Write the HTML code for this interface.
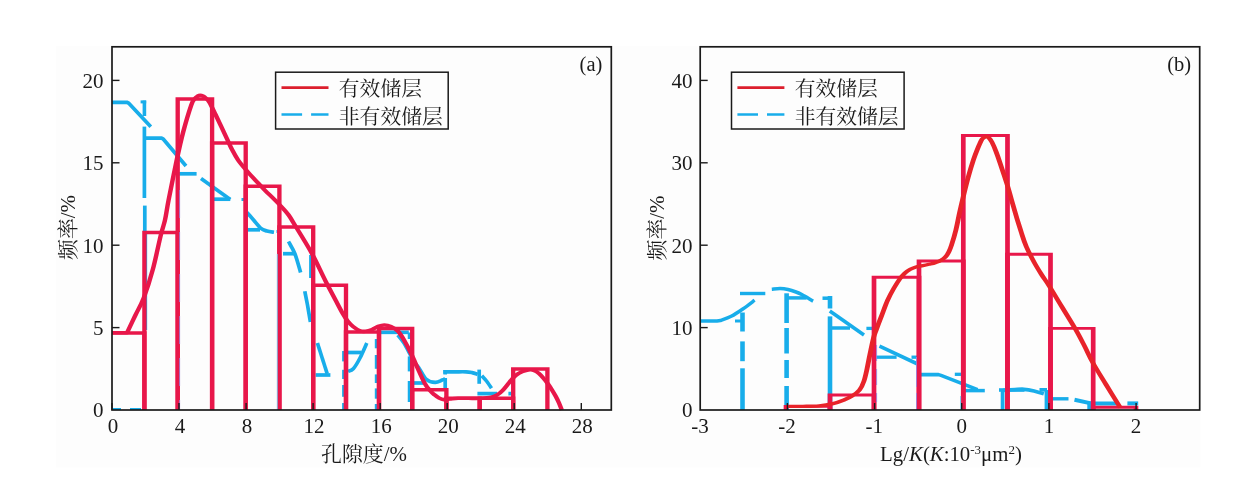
<!DOCTYPE html>
<html lang="zh">
<head>
<meta charset="utf-8">
<title>频率分布</title>
<style>
html,body{margin:0;padding:0;background:#fff;}
body{width:1252px;height:483px;overflow:hidden;}
svg{display:block;}
</style>
</head>
<body>
<svg width="1252" height="483" viewBox="0 0 1252 483" style="will-change:transform">
<rect x="0" y="0" width="1252" height="483" fill="#ffffff"/>
<rect x="56" y="45.8" width="1144.5" height="421.8" fill="#fdfdfd"/>
<g fill="none" stroke="#18adea" stroke-linecap="butt" stroke-linejoin="round">
<path d="M112.0,102.3 L126.8,102.3 L128.8,103.2 L150.8,126.8" stroke-width="3.7"/>
<path d="M140.6,101.9 L146.2,101.9" stroke-width="3"/>
<path d="M144.4,100.6 L144.4,116.0" stroke-width="3.6"/>
<path d="M144.4,126.6 L144.4,198.0" stroke-width="3.7"/>
<path d="M144.8,205.6 L144.8,234.0" stroke-width="3.7"/>
<path d="M145.3,234.0 L145.3,330.0" stroke-width="3.7"/>
<path d="M144.4,138.2 L161.6,138.2 L163.4,139.2 L186.0,166.0" stroke-width="3.7"/>
<path d="M179.0,173.8 L196.6,173.8" stroke-width="3.7"/>
<path d="M201.0,178.6 L230.3,199.5" stroke-width="3.7"/>
<path d="M213.4,199.2 L230.3,199.2" stroke-width="3.7"/>
<path d="M247.0,212.5 C248.2,213.8 251.7,217.8 254.0,220.5 C256.3,223.2 258.8,226.7 261.0,228.4 C263.2,230.2 264.8,230.3 267.0,231.0 C269.2,231.7 272.8,232.1 274.0,232.3" stroke-width="3.7"/>
<path d="M247.0,229.8 L260.0,229.8" stroke-width="3.7"/>
<path d="M276.5,231.5 L278.5,231.5" stroke-width="3"/>
<path d="M241.5,199.5 L244.0,199.5" stroke-width="3"/>
<path d="M283.0,253.7 L295.0,253.7" stroke-width="3.7"/>
<path d="M288.5,241.5 C289.6,243.6 293.0,248.8 295.0,254.0 C297.0,259.2 299.7,269.4 300.6,272.5" stroke-width="3.7"/>
<path d="M304.8,291.2 C305.2,293.5 306.6,299.9 307.5,305.0 C308.4,310.1 309.9,319.2 310.4,322.0" stroke-width="3.7"/>
<path d="M317.4,343.0 L327.2,373.7" stroke-width="3.7"/>
<path d="M310.6,255.0 L310.6,278.0" stroke-width="3"/>
<path d="M315.6,375.0 L330.4,375.0" stroke-width="3.7"/>
<path d="M343.6,351.0 L343.6,361.4" stroke-width="3"/>
<path d="M343.6,369.8 L343.6,379.0" stroke-width="3"/>
<path d="M343.6,385.0 L343.6,396.8" stroke-width="3"/>
<path d="M343.6,403.0 L343.6,410.0" stroke-width="3"/>
<path d="M348.0,352.5 L361.4,352.5" stroke-width="3.7"/>
<path d="M366.8,343.0 C365.7,345.5 362.2,353.7 360.0,358.0 C357.8,362.3 355.3,366.5 353.3,368.7 C351.3,370.9 348.9,370.9 348.0,371.4" stroke-width="3.7"/>
<path d="M376.3,339.0 L376.3,348.3" stroke-width="3"/>
<path d="M376.3,355.0 L376.3,368.8" stroke-width="3"/>
<path d="M376.3,374.4 L376.3,383.0" stroke-width="3"/>
<path d="M376.3,388.4 L376.3,398.7" stroke-width="3"/>
<path d="M376.3,404.0 L376.3,410.0" stroke-width="3"/>
<path d="M378.0,332.3 L408.8,332.3" stroke-width="3.7"/>
<path d="M409.6,332.5 L409.6,339.0" stroke-width="3.7"/>
<path d="M409.6,356.4 L409.6,371.4" stroke-width="3.7"/>
<path d="M409.6,381.0 L409.6,402.0" stroke-width="3.7"/>
<path d="M412.0,383.0 L423.0,383.0" stroke-width="3.7"/>
<path d="M397.8,335.0 C398.8,336.3 402.0,339.8 404.0,343.0 C406.0,346.2 408.2,350.7 410.0,354.0 C411.8,357.3 413.4,360.6 415.0,363.0 C416.6,365.4 417.5,366.0 419.4,368.7 C421.3,371.4 423.8,377.0 426.4,379.3 C429.0,381.6 432.6,382.3 435.2,382.4 C437.8,382.5 440.5,380.7 442.2,380.1 C443.9,379.5 444.7,378.9 445.2,378.6" stroke-width="3.7"/>
<path d="M445.2,370.0 L445.2,374.5" stroke-width="3.7"/>
<path d="M445.2,378.0 L445.2,388.4" stroke-width="3.7"/>
<path d="M443.3,371.8 C445.2,371.8 451.2,371.8 455.0,371.8 C458.8,371.8 463.2,371.7 466.0,371.8 C468.8,371.9 470.1,372.2 472.0,372.6 C473.9,373.0 476.7,374.1 477.6,374.4" stroke-width="3.7"/>
<path d="M479.2,369.6 L479.2,383.8" stroke-width="3.7"/>
<path d="M481.8,375.7 C482.6,376.6 484.9,378.9 486.5,381.0 C488.1,383.1 490.7,387.0 491.5,388.2" stroke-width="3.7"/>
<path d="M477.4,393.6 L497.0,393.6" stroke-width="3.7"/>
<path d="M508.4,393.6 L511.2,393.6" stroke-width="3.7"/>
<path d="M113.0,409.0 L121.0,409.0" stroke-width="2"/>
<path d="M130.0,409.0 L141.0,409.0" stroke-width="2"/>
</g>
<g fill="none" stroke="#e8174a" stroke-width="3.5" stroke-linejoin="miter" transform="scale(1.24,1)">
<path d="M90.32,333.0 L116.45,333.0 L116.45,410.0"/>
<path d="M116.45,410.0 L116.45,232.6 L143.31,232.6 L143.31,410.0"/>
<path d="M143.31,410.0 L143.31,98.9 L171.05,98.9 L171.05,410.0"/>
<path d="M171.05,410.0 L171.05,142.9 L198.15,142.9 L198.15,410.0"/>
<path d="M198.15,410.0 L198.15,186.3 L225.32,186.3 L225.32,410.0"/>
<path d="M225.32,410.0 L225.32,227.0 L252.58,227.0 L252.58,410.0"/>
<path d="M252.58,410.0 L252.58,285.2 L279.03,285.2 L279.03,410.0"/>
<path d="M279.03,410.0 L279.03,332.0 L305.65,332.0 L305.65,410.0"/>
<path d="M305.65,410.0 L305.65,328.5 L332.42,328.5 L332.42,410.0"/>
<path d="M332.42,410.0 L332.42,389.7 L360.00,389.7 L360.00,410.0"/>
<path d="M360.00,410.0 L360.00,398.2 L386.85,398.2 L386.85,410.0"/>
<path d="M386.85,410.0 L386.85,398.2 L413.87,398.2 L413.87,410.0"/>
<path d="M413.87,410.0 L413.87,369.0 L441.45,369.0 L441.45,410.0"/>
</g>
<path d="M179.6,190.0 L179.6,410.0" fill="none" stroke="#9b7fd6" stroke-width="0.9" stroke-dasharray="28 14"/>
<path d="M277.3,254.0 L277.3,410.0" fill="none" stroke="#7cc9ef" stroke-width="0.9"/>
<path d="M90.32,332.8 L102.42,332.8 L102.42,332.8 C103.55,329.8 107.02,320.9 109.27,315.0 C111.53,309.1 113.63,305.3 115.97,297.7 C118.31,290.1 121.05,279.6 123.31,269.2 C125.56,258.8 127.98,243.7 129.60,235.5 C131.21,227.3 132.02,225.9 133.06,220.0 C134.11,214.1 134.44,209.7 135.97,200.0 C137.50,190.3 140.32,172.9 142.26,161.6 C144.19,150.3 145.73,141.4 147.74,132.0 C149.76,122.6 152.74,110.5 154.27,105.0 C155.81,99.5 156.05,100.5 156.85,99.0 C157.66,97.5 158.55,96.8 159.27,96.2 C160.00,95.6 160.73,95.2 161.45,95.2 C162.18,95.2 162.90,95.5 163.71,96.0 C164.52,96.5 165.24,97.2 166.13,98.3 C167.02,99.4 167.66,99.8 168.95,102.5 C170.24,105.2 171.53,108.7 173.79,114.5 C176.05,120.3 180.32,131.6 182.50,137.4 C184.76,143.2 185.48,145.7 187.10,149.5 C188.71,153.3 190.08,156.6 192.18,160.3 C194.27,164.0 197.34,168.3 199.68,171.7 C202.02,175.1 204.11,177.7 206.45,180.8 C208.79,183.9 210.56,186.4 213.71,190.3 C216.85,194.2 222.10,200.4 225.24,204.5 C228.39,208.6 230.48,211.2 232.74,215.0 C235.00,218.8 236.61,222.8 238.71,227.0 C240.81,231.2 242.82,235.1 245.16,240.0 C247.50,244.9 249.92,249.7 252.82,256.5 C255.73,263.3 259.52,273.8 262.50,281.0 C265.48,288.2 268.23,294.5 270.56,300.0 C272.90,305.5 274.92,310.4 276.61,314.0 C278.31,317.6 279.27,319.4 280.65,321.5 C282.02,323.6 283.15,325.0 284.68,326.5 C286.21,328.0 288.23,329.8 289.92,330.6 C291.61,331.4 293.06,331.5 294.76,331.3 C296.45,331.1 298.31,330.4 300.00,329.6 C301.69,328.8 303.15,327.3 304.84,326.5 C306.53,325.7 308.15,325.0 309.92,325.0 C311.69,325.0 313.55,325.5 315.32,326.5 C317.10,327.5 319.03,328.8 320.81,331.0 C322.58,333.2 324.03,336.2 325.81,340.0 C327.58,343.8 329.84,349.2 331.69,354.0 C333.55,358.8 335.32,364.1 337.10,369.0 C338.87,373.9 340.97,379.9 342.58,383.5 C344.19,387.1 345.48,388.6 346.77,390.5 C348.06,392.4 348.95,393.4 350.16,394.6 C351.37,395.9 352.74,397.2 354.03,398.0 C355.32,398.8 356.61,399.4 358.06,399.6 C359.52,399.8 361.05,399.2 362.90,399.0 C364.76,398.8 366.85,398.4 369.35,398.3 C371.85,398.2 374.76,398.3 377.74,398.3 C380.73,398.3 384.03,398.5 387.10,398.3 C390.16,398.1 393.71,397.9 395.97,397.3 C398.23,396.8 399.27,396.1 400.81,395.0 C402.34,393.9 403.79,392.4 405.24,390.6 C406.69,388.8 408.15,386.3 409.68,384.0 C411.21,381.7 413.06,378.8 414.52,377.0 C415.97,375.2 416.94,374.4 418.15,373.5 C419.35,372.6 420.24,371.9 421.77,371.3 C423.31,370.7 425.81,369.8 427.42,369.7 C429.03,369.6 430.24,370.2 431.45,370.8 C432.66,371.4 433.55,372.3 434.68,373.5 C435.81,374.7 437.10,376.4 438.31,378.2 C439.52,379.9 440.81,382.0 441.94,384.0 C443.06,386.0 444.11,387.9 445.16,390.0 C446.21,392.1 447.18,394.1 448.15,396.3 C449.11,398.5 450.00,400.7 450.81,403.0 C451.61,405.3 452.66,408.8 453.06,410.0" fill="none" stroke="#e8174a" stroke-width="3.6" stroke-linejoin="round" transform="scale(1.24,1)"/>
<rect x="112.0" y="46.8" width="499.3" height="363.2" fill="none" stroke="#1a1a1a" stroke-width="1.7"/>
<g fill="none" stroke="#18adea" stroke-linecap="butt" stroke-linejoin="round">
<path d="M700.2,321 L717,321 L720.4,320.6 C722.2,319.9 727.5,318.2 731.2,316.3 C734.9,314.4 738.9,311.7 742.8,309.0 C746.7,306.3 752.6,301.7 754.6,300.2" stroke-width="3.5"/>
<path d="M735.0,321.0 L742.5,321.0" stroke-width="3"/>
<path d="M742.5,312.5 L742.5,331.5" stroke-width="4.6"/>
<path d="M742.5,341.4 L742.5,361.2" stroke-width="4.6"/>
<path d="M742.5,368.3 L742.5,410.0" stroke-width="4.6"/>
<path d="M740.0,293.5 L765.3,293.5" stroke-width="3.4"/>
<path d="M771.8,289.3 C773.2,289.2 777.3,288.6 780.0,288.6 C782.7,288.6 785.3,288.9 788.0,289.5 C790.7,290.1 793.6,291.1 796.0,292.0 C798.4,292.9 799.4,293.3 802.2,294.8 C805.1,296.3 811.3,300.1 813.1,301.1" stroke-width="3.5"/>
<path d="M786.6,293.3 L786.6,323.0" stroke-width="4.6"/>
<path d="M786.6,328.0 L786.6,353.5" stroke-width="4.6"/>
<path d="M786.6,360.0 L786.6,378.0" stroke-width="4.6"/>
<path d="M786.6,386.0 L786.6,410.0" stroke-width="4.6"/>
<path d="M786.0,297.9 L806.6,297.9" stroke-width="3.5"/>
<path d="M822.5,298.2 L832.0,298.2" stroke-width="3.5"/>
<path d="M830.0,296.0 L830.0,308.5" stroke-width="4.6"/>
<path d="M830.0,316.4 L830.0,410.0" stroke-width="4.6"/>
<path d="M829.8,311.0 L864.0,335.0" stroke-width="3.6"/>
<path d="M830.0,328.0 L850.0,328.0" stroke-width="3.5"/>
<path d="M866.4,328.4 L874.0,328.4" stroke-width="3.3"/>
<path d="M879.5,346.2 L917.6,364.0" stroke-width="3.6"/>
<path d="M874.0,357.2 L896.6,357.2" stroke-width="3.3"/>
<path d="M911.5,357.2 L919.0,357.2" stroke-width="3.3"/>
<path d="M919.0,374.6 L938.5,374.6 L941.0,375.4 L977.6,389.6" stroke-width="3.6"/>
<path d="M954.8,374.3 L962.0,374.3" stroke-width="3.3"/>
<path d="M964.0,390.6 L984.8,390.6" stroke-width="3.5"/>
<path d="M999.0,390.0 L1024.5,390.0" stroke-width="3.6"/>
<path d="M1039.5,389.8 L1047.0,389.8" stroke-width="3.6"/>
<path d="M1002.6,390.0 L1002.6,410.0" stroke-width="3.8"/>
<path d="M1003.0,390.4 C1005.0,390.3 1011.5,389.8 1015.0,389.6 C1018.5,389.4 1020.8,389.1 1024.0,389.3 C1027.2,389.5 1030.7,390.2 1034.0,391.0 C1037.3,391.8 1042.2,393.3 1043.8,393.8" stroke-width="3.8"/>
<path d="M1046.6,390.0 L1046.6,410.0" stroke-width="4"/>
<path d="M1052.0,398.8 L1068.5,398.8" stroke-width="3.4"/>
<path d="M1074.5,399.8 L1091.0,403.4" stroke-width="4"/>
<path d="M1089.3,410.0 L1089.3,403.4 L1118.0,403.4" stroke-width="4"/>
<path d="M1127.4,403.4 L1138.2,403.4" stroke-width="4"/>
</g>
<g fill="none" stroke="#e8174a" stroke-width="2.9" stroke-linejoin="miter" transform="scale(1.62,1)">
<path d="M485.19,410.0 L485.19,406.4 L512.35,406.4 L512.35,410.0"/>
<path d="M512.35,410.0 L512.35,395.0 L539.51,395.0 L539.51,410.0"/>
<path d="M539.51,410.0 L539.51,277.2 L567.28,277.2 L567.28,410.0"/>
<path d="M567.28,410.0 L567.28,261.0 L594.63,261.0 L594.63,410.0"/>
<path d="M594.63,410.0 L594.63,135.5 L621.91,135.5 L621.91,410.0"/>
<path d="M621.91,410.0 L621.91,254.3 L648.46,254.3 L648.46,410.0"/>
<path d="M648.46,410.0 L648.46,328.4 L674.81,328.4 L674.81,410.0"/>
<path d="M674.81,410.0 L674.81,407.3 L701.23,407.3 L701.23,410.0"/>
</g>
<path d="M876.6,345.0 L876.6,402.0" fill="none" stroke="#9b7fd6" stroke-width="0.9" stroke-dasharray="16 8"/>
<path d="M916.5,357.0 L916.5,410.0" fill="none" stroke="#9b7fd6" stroke-width="0.9" stroke-dasharray="30 6"/>
<path d="M960.6,396.0 L960.6,410.0" fill="none" stroke="#7cc9ef" stroke-width="1.0"/>
<path d="M531.08,406.4 C532.97,406.4 538.85,406.4 542.57,406.3 C546.28,406.2 550.00,406.2 553.38,405.8 C556.76,405.4 560.00,404.6 562.84,403.6 C565.68,402.6 568.11,401.3 570.27,400.0 C572.43,398.7 573.92,397.7 575.68,396.0 C577.43,394.3 579.39,392.5 580.74,390.0 C582.09,387.5 582.97,384.5 583.78,381.0 C584.59,377.5 585.14,373.5 585.81,369.0 C586.49,364.5 587.09,359.2 587.84,354.0 C588.58,348.8 589.53,342.0 590.20,338.0 C590.88,334.0 591.15,333.7 592.03,330.0 C592.91,326.3 594.32,320.9 595.61,316.0 C596.89,311.1 598.31,305.0 599.73,300.3 C601.15,295.6 602.64,291.6 604.05,288.0 C605.47,284.4 606.89,281.1 608.11,278.6 C609.32,276.1 610.34,274.6 611.49,273.0 C612.64,271.4 613.85,270.3 615.07,269.3 C616.28,268.3 617.50,267.6 618.92,267.0 C620.34,266.4 622.03,266.1 623.51,265.6 C625.00,265.2 626.28,264.8 627.70,264.3 C629.12,263.8 630.54,263.4 631.89,262.7 C633.24,262.0 634.66,261.3 635.81,260.3 C636.96,259.3 637.97,258.4 638.85,256.9 C639.73,255.4 640.54,253.6 641.22,251.5 C641.89,249.4 642.30,248.1 643.04,244.5 C643.85,240.9 645.00,235.2 645.88,230.0 C646.76,224.8 647.50,218.5 648.31,213.0 C649.12,207.5 649.86,202.8 650.81,197.0 C651.76,191.2 652.91,184.2 654.05,178.0 C655.20,171.8 656.69,164.5 657.77,159.7 C658.85,154.9 659.59,152.2 660.47,149.0 C661.35,145.8 662.30,142.5 662.97,140.6 C663.65,138.7 664.12,138.5 664.66,137.8 C665.20,137.2 665.61,136.7 666.22,136.7 C666.82,136.7 667.57,137.1 668.24,138.0 C668.92,138.9 669.46,140.1 670.27,142.3 C671.08,144.6 672.09,148.1 672.97,151.5 C673.85,154.9 674.39,157.1 675.68,162.8 C676.96,168.6 679.46,179.6 680.81,186.0 C682.16,192.4 682.70,196.1 683.78,201.5 C684.86,206.9 686.08,213.4 687.16,218.7 C688.24,223.9 689.19,228.3 690.20,233.0 C691.22,237.7 692.03,241.8 693.45,246.6 C694.86,251.4 696.96,257.4 698.65,262.0 C700.34,266.6 701.96,270.4 703.72,274.5 C705.47,278.6 706.89,281.2 709.19,286.6 C711.49,292.0 714.73,300.1 717.57,307.0 C720.41,313.9 723.58,321.4 726.08,327.7 C728.58,334.0 730.34,339.1 732.43,345.0 C734.53,350.9 736.01,356.4 738.51,363.0 C741.01,369.6 744.26,377.1 747.30,384.5 C750.34,391.9 755.34,403.8 756.96,407.6" fill="none" stroke="#e8232a" stroke-width="3.3" stroke-linejoin="round" transform="scale(1.48,1)"/>
<rect x="700.2" y="46.8" width="499.5" height="363.2" fill="none" stroke="#1a1a1a" stroke-width="1.7"/>
<g stroke="#1a1a1a" stroke-width="1.4" fill="none">
<path d="M112.0,410 v-7"/>
<path d="M179.0,410 v-7"/>
<path d="M246.1,410 v-7"/>
<path d="M313.1,410 v-7"/>
<path d="M380.2,410 v-7"/>
<path d="M447.2,410 v-7"/>
<path d="M514.2,410 v-7"/>
<path d="M581.3,410 v-7"/>
<path d="M112,327.6 h7.5"/>
<path d="M112,245.2 h7.5"/>
<path d="M112,162.8 h7.5"/>
<path d="M112,80.4 h7.5"/>
<path d="M787.4,410 v-7"/>
<path d="M874.6,410 v-7"/>
<path d="M961.7,410 v-7"/>
<path d="M1048.9,410 v-7"/>
<path d="M1136.1,410 v-7"/>
<path d="M700.2,327.6 h7.5"/>
<path d="M700.2,245.2 h7.5"/>
<path d="M700.2,162.8 h7.5"/>
<path d="M700.2,80.4 h7.5"/>
</g>
<g font-family='"Liberation Serif", "Noto Serif CJK SC", serif' fill="#1a1a1a" font-size="21">
<text x="113.0" y="433" text-anchor="middle">0</text>
<text x="180.0" y="433" text-anchor="middle">4</text>
<text x="247.1" y="433" text-anchor="middle">8</text>
<text x="314.1" y="433" text-anchor="middle">12</text>
<text x="381.2" y="433" text-anchor="middle">16</text>
<text x="448.2" y="433" text-anchor="middle">20</text>
<text x="515.2" y="433" text-anchor="middle">24</text>
<text x="582.3" y="433" text-anchor="middle">28</text>
<text x="103.5" y="417.3" text-anchor="end">0</text>
<text x="103.5" y="334.9" text-anchor="end">5</text>
<text x="103.5" y="252.5" text-anchor="end">10</text>
<text x="103.5" y="170.1" text-anchor="end">15</text>
<text x="103.5" y="87.7" text-anchor="end">20</text>
<text x="699.9" y="433" text-anchor="middle">-3</text>
<text x="787.1" y="433" text-anchor="middle">-2</text>
<text x="874.3" y="433" text-anchor="middle">-1</text>
<text x="961.7" y="433" text-anchor="middle">0</text>
<text x="1048.9" y="433" text-anchor="middle">1</text>
<text x="1136.1" y="433" text-anchor="middle">2</text>
<text x="692.5" y="417.3" text-anchor="end">0</text>
<text x="692.5" y="334.9" text-anchor="end">10</text>
<text x="692.5" y="252.5" text-anchor="end">20</text>
<text x="692.5" y="170.1" text-anchor="end">30</text>
<text x="692.5" y="87.7" text-anchor="end">40</text>
</g>
<g font-family='"Liberation Serif", "Noto Serif CJK SC", serif' fill="#1a1a1a" font-size="20.9">
<text x="364" y="461.2" text-anchor="middle">孔隙度/%</text>
<text transform="translate(75,227.5) rotate(-90)" text-anchor="middle">频率/%</text>
<text transform="translate(663.8,228) rotate(-90)" text-anchor="middle">频率/%</text>
<text x="951" y="460.5" text-anchor="middle" font-size="20.8">Lg/<tspan font-style="italic">K</tspan>(<tspan font-style="italic">K</tspan>:10<tspan font-size="13" dy="-7">-3</tspan><tspan dy="7">μm</tspan><tspan font-size="13" dy="-7">2</tspan><tspan dy="7">)</tspan></text>
<text x="579.6" y="70.5" font-size="20.5">(a)</text>
<text x="1167.3" y="70.5" font-size="20.5">(b)</text>
</g>
<rect x="275.6" y="72.2" width="172.6" height="56.8" fill="#fdfdfd" stroke="#1a1a1a" stroke-width="1.5"/>
<path d="M281.5,87.6 h47" stroke="#dc1f2d" stroke-width="2.7" fill="none"/>
<path d="M281.5,114.5 h20.6 m9,0 h17.4" stroke="#18adea" stroke-width="2.7" fill="none"/>
<g font-family='"Liberation Serif", "Noto Serif CJK SC", serif' fill="#1a1a1a" font-size="20.8">
<text x="338.8" y="96.4">有效储层</text>
<text x="338.8" y="123.5">非有效储层</text>
</g>
<rect x="731.5" y="72.2" width="172.6" height="56.8" fill="#fdfdfd" stroke="#1a1a1a" stroke-width="1.5"/>
<path d="M737.4,87.6 h47" stroke="#dc1f2d" stroke-width="2.7" fill="none"/>
<path d="M737.4,114.5 h20.6 m9,0 h17.4" stroke="#18adea" stroke-width="2.7" fill="none"/>
<g font-family='"Liberation Serif", "Noto Serif CJK SC", serif' fill="#1a1a1a" font-size="20.8">
<text x="794.7" y="96.4">有效储层</text>
<text x="794.7" y="123.5">非有效储层</text>
</g>
</svg>
</body>
</html>
